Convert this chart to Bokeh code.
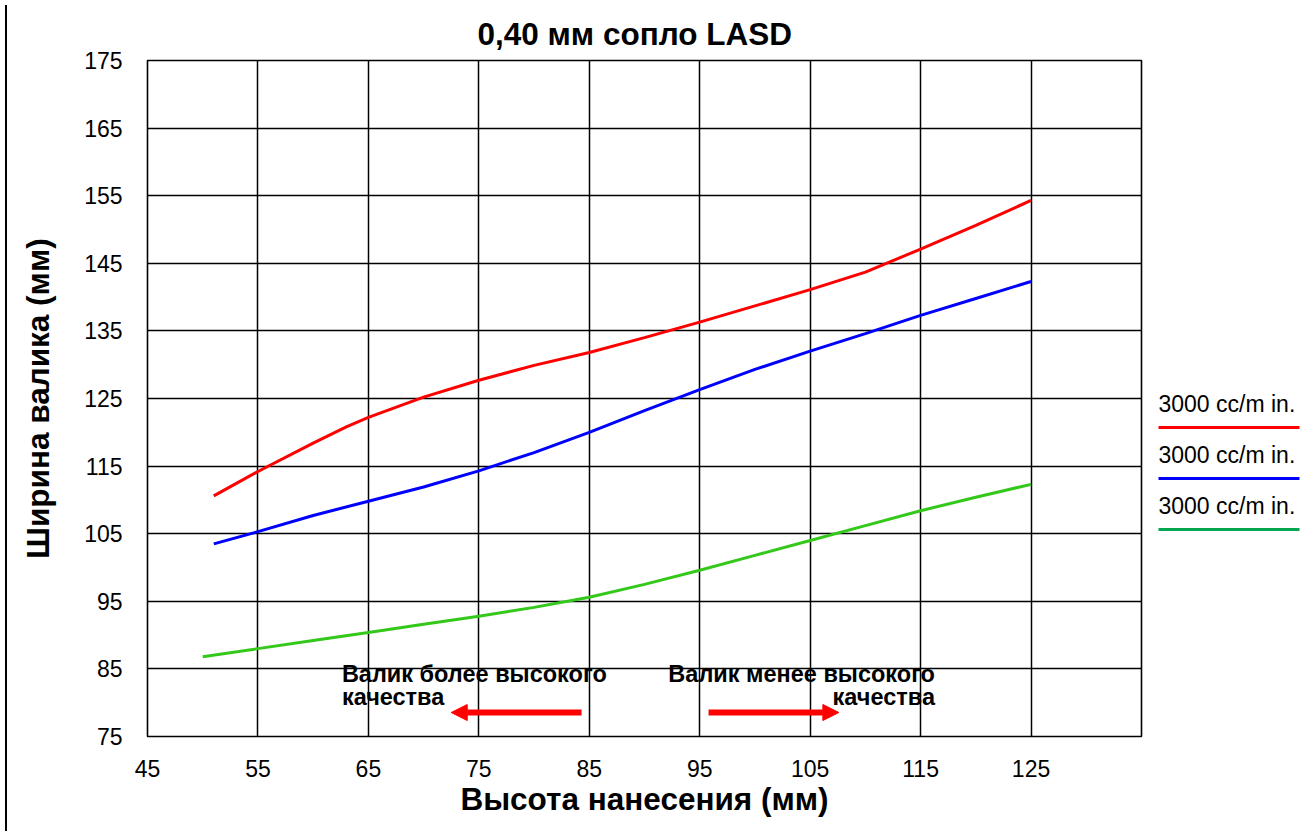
from bokeh.plotting import figure
from bokeh.models import Range1d, FixedTicker, Arrow, NormalHead, Div
from bokeh.layouts import row
from bokeh.core.properties import value
from bokeh.embed import file_html
from bokeh.resources import INLINE

# ---------------- data ----------------
title_text = "0,40 мм сопло LASD"
x_label = "Высота нанесения (мм)"
y_label = "Ширина валика (мм)"

x_ticks = [45, 55, 65, 75, 85, 95, 105, 115, 125]
y_ticks = [75, 85, 95, 105, 115, 125, 135, 145, 155, 165, 175]

red_x = [51, 55, 60, 63, 65, 70, 75, 80, 85, 90, 95, 100, 105, 110, 115, 120, 125]
red_y = [110.6, 114.2, 118.4, 120.8, 122.2, 125.2, 127.7, 129.9, 131.8, 134.0, 136.3, 138.7, 141.1, 143.7, 147.1, 150.6, 154.3]

blue_x = [51, 55, 60, 65, 70, 75, 80, 85, 90, 95, 100, 105, 110, 115, 120, 125]
blue_y = [103.5, 105.3, 107.7, 109.8, 111.9, 114.3, 117.0, 120.0, 123.2, 126.3, 129.3, 132.0, 134.6, 137.3, 139.8, 142.3]

green_x = [50, 55, 60, 65, 70, 75, 80, 85, 90, 95, 100, 105, 110, 115, 120, 125]
green_y = [86.8, 88.0, 89.2, 90.4, 91.6, 92.8, 94.1, 95.6, 97.5, 99.6, 101.8, 104.0, 106.2, 108.4, 110.4, 112.3]

legend_labels = ["3000 cc/m in.", "3000 cc/m in.", "3000 cc/m in."]
legend_colors = ["#ff0000", "#0000ff", "#00a650"]
curve_colors = ["#ff0000", "#0000ff", "#33c81a"]

note_left = ["Валик более высокого", "качества"]
note_right = ["Валик менее высокого", "качества"]
arrow_left = (84.3, 72.5, 78.55)   # x_start, x_end, y
arrow_right = (95.8, 107.6, 78.55)

FONT = "Liberation Sans"

# ---------------- main figure ----------------
p = figure(width=1140, height=826, output_backend="svg", toolbar_location=None,
           x_range=Range1d(45, 135), y_range=Range1d(75, 175),
           min_border_left=135, min_border_right=11, min_border_top=60, min_border_bottom=90)
p.background_fill_color = "white"
p.border_fill_color = "white"
p.outline_line_color = "black"
p.outline_line_width = 1.6

p.title.text = title_text
p.title.align = "left"
p.title.offset = 330
p.title.standoff = 18
p.title.text_font = FONT
p.title.text_font_size = "31.5px"
p.title.text_font_style = "bold"
p.title.text_color = "black"

for ax, ticks in ((p.xaxis[0], x_ticks), (p.yaxis[0], y_ticks)):
    ax.ticker = FixedTicker(ticks=ticks)
    ax.axis_line_color = None
    ax.major_tick_line_color = None
    ax.minor_tick_line_color = None
    ax.major_label_text_font = FONT
    ax.major_label_text_font_size = "23px"
    ax.major_label_text_color = "black"
    ax.axis_label_text_font = FONT
    ax.axis_label_text_font_size = "31.5px"
    ax.axis_label_text_font_style = "bold"
    ax.axis_label_text_color = "black"

p.xaxis.axis_label = x_label
p.yaxis.axis_label = y_label
p.xaxis.major_label_standoff = 17
p.yaxis.major_label_standoff = 19
p.xaxis.axis_label_standoff = 1
p.yaxis.axis_label_standoff = 25

for g in (p.xgrid[0], p.ygrid[0]):
    g.grid_line_color = "black"
    g.grid_line_width = 1.5
p.xgrid.ticker = FixedTicker(ticks=x_ticks)
p.ygrid.ticker = FixedTicker(ticks=y_ticks)

for xs, ys, c in ((red_x, red_y, curve_colors[0]), (blue_x, blue_y, curve_colors[1]),
                  (green_x, green_y, curve_colors[2])):
    p.line(xs, ys, line_color=c, line_width=3)

# notes
p.text(x=[62.6, 62.6], y=[84.3, 80.8], text=note_left, text_font=value(FONT),
       text_font_size="23.5px", text_font_style="bold", text_color="black",
       text_align="left", text_baseline="middle")
p.text(x=[116.3, 116.3], y=[84.3, 80.8], text=note_right, text_font=value(FONT),
       text_font_size="23.5px", text_font_style="bold", text_color="black",
       text_align="right", text_baseline="middle")

for xs, xe, yy in (arrow_left, arrow_right):
    p.add_layout(Arrow(end=NormalHead(size=16, fill_color="#ff0000", line_color="#ff0000", line_width=1),
                       x_start=xs, y_start=yy, x_end=xe, y_end=yy,
                       line_color="#ff0000", line_width=6))

# ---------------- legend figure (frame aligned with main frame) ----------------
frame_h = 676
leg = figure(width=155, height=826, output_backend="svg", toolbar_location=None,
             x_range=Range1d(0, 155), y_range=Range1d(frame_h, 0),
             x_axis_location=None, y_axis_location=None, min_border=0)
leg.outline_line_color = None
leg.grid.visible = False
leg.background_fill_color = "white"
leg.border_fill_color = "white"

n = len(legend_labels)
text_y = [343 + 51 * i for i in range(n)]
line_y = [367 + 51 * i for i in range(n)]
leg.text(x=[6] * n, y=text_y, text=legend_labels, text_font=value(FONT),
         text_font_size="23px", text_color="black", text_align="left", text_baseline="middle")
leg.segment(x0=[6] * n, y0=line_y, x1=[147] * n, y1=line_y,
            line_color=legend_colors, line_width=3)

edge = Div(width=2, height=826, styles={"background-color": "black"})

layout = row(edge, p, leg)
open("out.html", "w").write(file_html(layout, INLINE))
